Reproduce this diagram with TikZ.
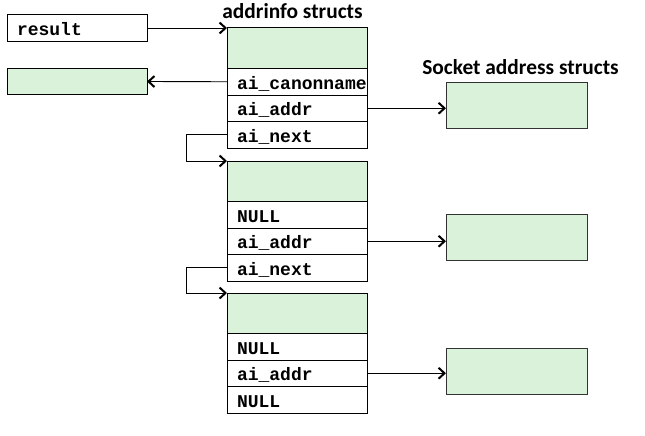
\documentclass[tikz,border=0pt]{standalone}
\usepackage{fontspec}
\setmonofont{Liberation Mono}
\newfontfamily\titlefont{Carlito}
\usetikzlibrary{positioning,arrows.meta}
\definecolor{structgreen}{RGB}{218,242,218}

\tikzstyle{field}=[rectangle,
                   draw=black,
                   line width=1pt,
                   outer sep=0pt,
                   inner xsep=10pt,
                   inner ysep=0pt,
                   minimum width=140pt,
                   minimum height=26.5pt,
                   text width=120pt,
                   text height=15pt,
                   text depth=0pt,
                   font=\fontsize{18}{18}\selectfont\ttfamily\bfseries]
\tikzstyle{head}=[rectangle,
                  draw=black,
                  line width=1pt,
                  outer sep=0pt,
                  minimum width=140pt,
                  minimum height=40.5pt,
                  fill=structgreen]
\tikzstyle{sockaddr}=[rectangle,
                      draw=black!80,
                      line width=1pt,
                      outer sep=0pt,
                      minimum width=141pt,
                      minimum height=46pt,
                      fill=structgreen]
\tikzstyle{title}=[anchor=base,
                   inner sep=0pt,
                   font=\titlefont\bfseries\fontsize{21.4}{21.4}\selectfont]

\begin{document}
\begin{tikzpicture}[x=1pt,y=-1pt,>={Straight Barb[length=6pt,width=11pt,line width=2pt]}]
  \useasboundingbox (0,0) rectangle (645,436);

  % Left side: the result pointer and the canonical name
  \node (result) [field] at (77,28) {result};
  \node (name) [field, fill=structgreen] at (77,81.5) {};

  % First addrinfo struct
  \node (title_ai) [title] at (292.5,18.5) {addrinfo structs};
  \node (head_1) [head] at (297,48.25) {};
  \node (canon_1) [field, below=0pt of head_1] {ai\_canonname};
  \node (addr_1) [field, below=0pt of canon_1] {ai\_addr};
  \node (next_1) [field, below=0pt of addr_1] {ai\_next};

  % Second addrinfo struct
  \node (head_2) [head] at (297,181.25) {};
  \node (canon_2) [field, below=0pt of head_2] {NULL};
  \node (addr_2) [field, below=0pt of canon_2] {ai\_addr};
  \node (next_2) [field, below=0pt of addr_2] {ai\_next};

  % Third addrinfo struct
  \node (head_3) [head] at (297,313.25) {};
  \node (canon_3) [field, below=0pt of head_3] {NULL};
  \node (addr_3) [field, below=0pt of canon_3] {ai\_addr};
  \node (next_3) [field, below=0pt of addr_3] {NULL};

  % Socket address structs
  \node (title_sock) [title] at (520.5,74.5) {Socket address structs};
  \node (sock_1) [sockaddr] at (516.5,105) {};
  \node (sock_2) [sockaddr] at (516.5,237) {};
  \node (sock_3) [sockaddr] at (516.5,371) {};

  % Pointers between the structs
  \path[->, line width=0.9pt]
      (result.east) edge (result.east -| head_1.west)
      (canon_1.west) edge (name.east)
      (addr_1.east) edge (addr_1.east -| sock_1.west)
      (addr_2.east) edge (addr_2.east -| sock_2.west)
      (addr_3.east) edge (addr_3.east -| sock_3.west)
      ;
  \draw[->, line width=0.9pt] (next_1.west) -- ++(-41,0) |- (head_2.north west);
  \draw[->, line width=0.9pt] (next_2.west) -- ++(-41,0) |- (head_3.north west);

\end{tikzpicture}
\end{document}
